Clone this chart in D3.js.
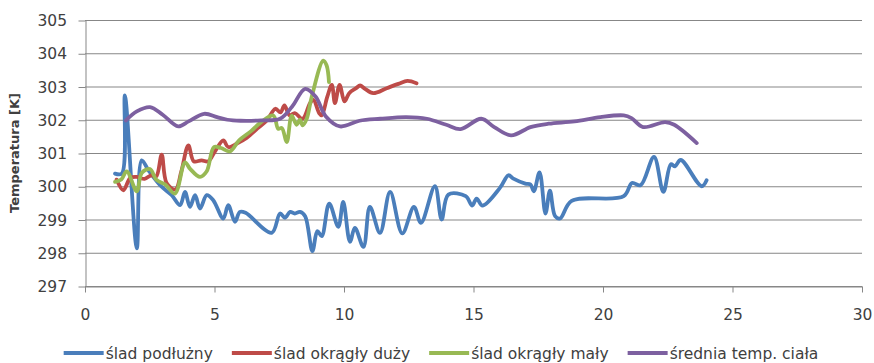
<!DOCTYPE html>
<html>
<head>
<meta charset="utf-8">
<script src="https://cdn.jsdelivr.net/npm/d3@7"></script>
<style>
  body { margin: 0; background: #fff; }
  svg { display: block; }
  text { font-family: "DejaVu Sans", sans-serif; fill: #404040; }
</style>
</head>
<body>
<svg id="chart" width="874" height="363"></svg>
<script>
// Series labels and colours
const seriesNames = ["ślad podłużny", "ślad okrągły duży", "ślad okrągły mały", "średnia temp. ciała"];
const seriesColors = ["#4A7EBB", "#BE4B48", "#98B954", "#7D60A0"];

// Axis ticks
const xTicks = [0, 5, 10, 15, 20, 25, 30];
const yTicks = [297, 298, 299, 300, 301, 302, 303, 304, 305];
const yTitle = "Temperatura [K]";

// ślad podłużny: [time, temperature]
const podluzny = [
  [1.16, 300.38], [1.42, 300.38], [1.54, 302.73], [2.0, 298.13], [2.19, 300.78],
  [2.45, 300.48], [2.9, 300.03], [3.35, 299.73], [3.67, 299.43], [3.86, 299.83],
  [4.05, 299.38], [4.25, 299.73], [4.44, 299.33], [4.7, 299.73], [4.95, 299.58],
  [5.34, 299.03], [5.53, 299.43], [5.79, 298.93], [5.98, 299.23], [6.2, 299.2],
  [7.21, 298.6], [7.53, 299.18], [7.72, 299.05], [7.92, 299.23], [8.1, 299.18],
  [8.3, 299.23], [8.5, 299.1], [8.78, 298.05], [8.97, 298.65], [9.14, 298.5],
  [9.43, 299.48], [9.78, 298.78], [9.97, 299.53], [10.23, 298.33], [10.42, 298.75],
  [10.75, 298.18], [11.0, 299.38], [11.39, 298.6], [11.78, 299.83], [12.25, 298.58],
  [12.7, 299.38], [12.97, 298.9], [13.51, 300.0], [13.77, 299.0], [14.03, 299.75],
  [14.7, 299.7], [14.95, 299.42], [15.12, 299.63], [15.35, 299.42], [16.02, 299.95],
  [16.35, 300.33], [16.54, 300.23], [17.0, 300.08], [17.2, 300.05], [17.33, 299.85],
  [17.55, 300.42], [17.78, 299.18], [17.95, 299.87], [18.15, 299.1], [18.34, 299.03],
  [18.79, 299.56], [20.8, 299.7], [21.12, 300.1], [21.45, 300.03], [21.97, 300.88],
  [22.33, 299.83], [22.62, 300.66], [22.78, 300.6], [23.0, 300.79], [23.81, 300.0],
  [24.0, 300.18]
];

// ślad okrągły duży
const okraglyDuzy = [
  [1.22, 300.2], [1.48, 299.88], [1.75, 300.25], [2.0, 300.28], [2.3, 300.22],
  [2.55, 300.33], [2.75, 300.3], [2.96, 300.95], [3.15, 300.1], [3.49, 299.9],
  [3.72, 300.45], [3.99, 301.23], [4.2, 300.75], [4.5, 300.78], [4.76, 300.75],
  [5.02, 301.05], [5.34, 301.38], [5.53, 301.18], [5.9, 301.3], [6.24, 301.45],
  [6.6, 301.7], [7.02, 301.98], [7.35, 302.33], [7.55, 302.22], [7.7, 302.43],
  [7.9, 302.13], [8.1, 302.2], [8.4, 302.03], [8.69, 302.5], [8.82, 302.6],
  [9.04, 302.2], [9.14, 302.13], [9.35, 302.68], [9.53, 303.05], [9.65, 302.5],
  [9.83, 303.05], [10.02, 302.55], [10.2, 302.8], [10.47, 302.95], [10.62, 303.03],
  [10.81, 302.93], [11.13, 302.8], [11.65, 302.95], [12.1, 303.08], [12.45, 303.17],
  [12.8, 303.1]
];

// ślad okrągły mały
const okraglyMaly = [
  [1.16, 300.13], [1.4, 300.2], [1.61, 300.45], [2.0, 299.85], [2.19, 300.4],
  [2.51, 300.52], [2.75, 300.2], [3.1, 300.05], [3.47, 299.78], [3.86, 300.72],
  [4.05, 300.53], [4.44, 300.28], [4.7, 300.45], [4.98, 301.18], [5.25, 301.15],
  [5.6, 301.05], [5.95, 301.38], [6.4, 301.65], [6.8, 301.93], [7.27, 302.13],
  [7.46, 301.73], [7.6, 301.75], [7.79, 301.33], [7.98, 302.12], [8.17, 301.85],
  [8.3, 302.0], [8.4, 301.83], [8.56, 302.03], [8.75, 302.68], [9.2, 303.78],
  [9.33, 303.63], [9.42, 303.13]
];

// średnia temp. ciała
const sredniaCiala = [
  [1.58, 301.98], [2.0, 302.25], [2.51, 302.38], [3.0, 302.15], [3.6, 301.8],
  [4.0, 301.95], [4.6, 302.18], [5.1, 302.08], [5.5, 302.0], [6.0, 301.97],
  [6.8, 301.98], [7.53, 302.03], [8.0, 302.4], [8.5, 302.93], [8.9, 302.7],
  [9.3, 302.1], [9.85, 301.8], [10.6, 301.97], [11.4, 302.03], [12.4, 302.08],
  [13.2, 302.03], [13.95, 301.85], [14.5, 301.72], [15.3, 302.03], [15.8, 301.78],
  [16.45, 301.53], [17.2, 301.78], [17.9, 301.88], [18.9, 301.95], [19.9, 302.08],
  [20.8, 302.13], [21.1, 302.05], [21.55, 301.78], [22.4, 301.93], [22.75, 301.85],
  [23.62, 301.3]
];

const allSeries = [podluzny, okraglyDuzy, okraglyMaly, sredniaCiala];

// Plot geometry
const plotLeft = 85, plotRight = 862, plotTop = 20, plotBottom = 286;
const gridColor = "#878787";

const svg = d3.select("#chart");
const x = d3.scaleLinear().domain([0, 30]).range([plotLeft, plotRight]);
const y = d3.scaleLinear().domain([297, 305]).range([plotBottom, plotTop]);

// Horizontal gridlines
svg.append("g")
  .selectAll("line")
  .data(yTicks)
  .join("line")
  .attr("x1", plotLeft).attr("x2", plotRight)
  .attr("y1", d => y(d) + 0.5).attr("y2", d => y(d) + 0.5)
  .attr("stroke", gridColor).attr("stroke-width", 1);

// Y axis
const yAxis = svg.append("g")
  .attr("transform", `translate(${plotLeft + 0.5},0)`)
  .call(d3.axisLeft(y).tickValues(yTicks).tickSize(7).tickPadding(11).tickSizeOuter(0).tickFormat(d3.format("d")));
yAxis.select(".domain").attr("stroke", gridColor);
yAxis.selectAll(".tick line").attr("stroke", gridColor).attr("transform", "translate(0,0.5)");
yAxis.selectAll(".tick text")
  .attr("font-size", "15.5px").attr("font-family", "DejaVu Sans, sans-serif")
  .attr("fill", "#404040").attr("dy", "0.36em").attr("x", -18.5);

// X axis
const xAxis = svg.append("g")
  .attr("transform", `translate(0,${plotBottom + 0.5})`)
  .call(d3.axisBottom(x).tickValues(xTicks).tickSize(6).tickSizeOuter(0).tickFormat(d3.format("d")));
xAxis.select(".domain").attr("stroke", gridColor);
xAxis.selectAll(".tick line").attr("stroke", gridColor);
xAxis.selectAll(".tick text")
  .attr("font-size", "15.5px").attr("font-family", "DejaVu Sans, sans-serif")
  .attr("fill", "#404040").attr("dy", 0).attr("y", 33);

// Y axis title
svg.append("text")
  .attr("transform", `translate(19,${(plotTop + plotBottom) / 2}) rotate(-90)`)
  .attr("text-anchor", "middle")
  .attr("font-size", "13px")
  .attr("font-weight", "bold")
  .attr("fill", "#1a1a1a")
  .text(yTitle);

// Smoothed series lines
const line = d3.line()
  .x(d => x(d[0]))
  .y(d => y(d[1]))
  .curve(d3.curveCatmullRom.alpha(0.5));

svg.append("g")
  .selectAll("path")
  .data(allSeries)
  .join("path")
  .attr("d", line)
  .attr("fill", "none")
  .attr("stroke", (d, i) => seriesColors[i])
  .attr("stroke-width", 3.8)
  .attr("stroke-linejoin", "round")
  .attr("stroke-linecap", "round");

// Legend, centred under the plot
const legend = svg.append("g");
const swatchW = 40, swatchGap = 2, itemGap = 19, legendY = 353;
const items = legend.selectAll("g")
  .data(seriesNames)
  .join("g");
items.append("line")
  .attr("x1", 0).attr("x2", swatchW)
  .attr("y1", 0).attr("y2", 0)
  .attr("stroke", (d, i) => seriesColors[i])
  .attr("stroke-width", 4);
items.append("text")
  .attr("x", swatchW + swatchGap)
  .attr("y", 5.5)
  .attr("font-size", "15.5px")
  .attr("fill", "#404040")
  .text(d => d);
const widths = [];
items.each(function () {
  const w = swatchW + swatchGap + d3.select(this).select("text").node().getComputedTextLength();
  widths.push(w);
});
const total = d3.sum(widths) + itemGap * (widths.length - 1);
let cursor = 441 - total / 2;
items.attr("transform", (d, i) => {
  const tx = cursor;
  cursor += widths[i] + itemGap;
  return `translate(${tx},${legendY})`;
});
</script>
</body>
</html>
